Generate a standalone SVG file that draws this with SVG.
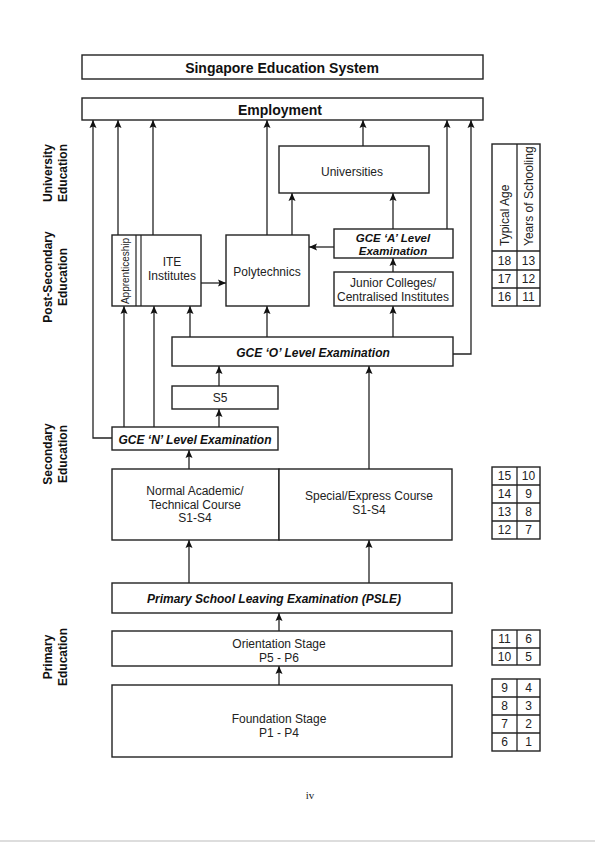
<svg xmlns="http://www.w3.org/2000/svg" width="595" height="842" viewBox="0 0 595 842">
<style>
.bx{fill:#fff;stroke:#222;stroke-width:1.4}
.cn{fill:none;stroke:#222;stroke-width:1.3}
.t{font-family:"Liberation Sans",Arial,sans-serif;font-size:12px;fill:#222;text-anchor:middle;dominant-baseline:central}
.tb{font-family:"Liberation Sans",Arial,sans-serif;font-size:14px;font-weight:bold;fill:#111;text-anchor:middle;dominant-baseline:central}
.ti{font-family:"Liberation Sans",Arial,sans-serif;font-size:12px;font-weight:bold;font-style:italic;fill:#111;text-anchor:middle;dominant-baseline:central}
.lb{font-family:"Liberation Sans",Arial,sans-serif;font-size:12px;font-weight:bold;fill:#111;text-anchor:middle;dominant-baseline:central}
</style>
<defs>
<marker id="ah" markerUnits="userSpaceOnUse" markerWidth="10" markerHeight="8" refX="8" refY="4" orient="auto">
<path d="M0,0.5 L8,4 L0,7.5 L1.5,4 z" fill="#111"/>
</marker>
</defs>
<rect width="595" height="842" fill="#fff"/>
<line x1="0" y1="841" x2="595" y2="841" stroke="#bbb" stroke-width="1"/>

<g id="side-labels">
<text class="lb" transform="translate(48,173) rotate(-90)">University</text>
<text class="lb" transform="translate(63,173) rotate(-90)">Education</text>
<text class="lb" transform="translate(48,277) rotate(-90)">Post-Secondary</text>
<text class="lb" transform="translate(63,277) rotate(-90)">Education</text>
<text class="lb" transform="translate(48,454) rotate(-90)">Secondary</text>
<text class="lb" transform="translate(63,454) rotate(-90)">Education</text>
<text class="lb" transform="translate(48,657) rotate(-90)">Primary</text>
<text class="lb" transform="translate(63,657) rotate(-90)">Education</text>
</g>

<g id="connectors">
<polyline class="cn" points="112,438 93,438 93,120" marker-end="url(#ah)"/>
<line class="cn" x1="118" y1="235" x2="118" y2="120" marker-end="url(#ah)"/>
<line class="cn" x1="153" y1="235" x2="153" y2="120" marker-end="url(#ah)"/>
<line class="cn" x1="267" y1="235" x2="267" y2="120" marker-end="url(#ah)"/>
<line class="cn" x1="363" y1="146" x2="363" y2="120" marker-end="url(#ah)"/>
<line class="cn" x1="447" y1="229" x2="447" y2="120" marker-end="url(#ah)"/>
<polyline class="cn" points="453,354 471,354 471,120" marker-end="url(#ah)"/>
<line class="cn" x1="201" y1="283" x2="226" y2="283" marker-end="url(#ah)"/>
<line class="cn" x1="334" y1="247" x2="309" y2="247" marker-end="url(#ah)"/>
<line class="cn" x1="292" y1="235" x2="292" y2="193" marker-end="url(#ah)"/>
<line class="cn" x1="393" y1="229" x2="393" y2="193" marker-end="url(#ah)"/>
<line class="cn" x1="393" y1="272" x2="393" y2="258" marker-end="url(#ah)"/>
<line class="cn" x1="393" y1="337" x2="393" y2="306" marker-end="url(#ah)"/>
<line class="cn" x1="267" y1="337" x2="267" y2="306" marker-end="url(#ah)"/>
<line class="cn" x1="190" y1="337" x2="190" y2="306" marker-end="url(#ah)"/>
<line class="cn" x1="124" y1="427" x2="124" y2="306" marker-end="url(#ah)"/>
<line class="cn" x1="154" y1="427" x2="154" y2="306" marker-end="url(#ah)"/>
<line class="cn" x1="219" y1="386" x2="219" y2="366" marker-end="url(#ah)"/>
<line class="cn" x1="219" y1="427" x2="219" y2="409" marker-end="url(#ah)"/>
<line class="cn" x1="189" y1="469" x2="189" y2="450" marker-end="url(#ah)"/>
<line class="cn" x1="369" y1="469" x2="369" y2="366" marker-end="url(#ah)"/>
<line class="cn" x1="189" y1="583" x2="189" y2="540" marker-end="url(#ah)"/>
<line class="cn" x1="369" y1="583" x2="369" y2="540" marker-end="url(#ah)"/>
<line class="cn" x1="279" y1="631" x2="279" y2="613" marker-end="url(#ah)"/>
<line class="cn" x1="279" y1="685" x2="279" y2="666" marker-end="url(#ah)"/>
</g>

<g id="title"><rect class="bx" x="82" y="55" width="401" height="24"/><text class="tb" x="282" y="68">Singapore Education System</text></g>
<g id="employment"><rect class="bx" x="82" y="98" width="401" height="22"/><text class="tb" x="280" y="110">Employment</text></g>
<g id="universities"><rect class="bx" x="279" y="146" width="150" height="47"/><text class="t" x="352" y="172">Universities</text></g>
<g id="ite"><rect class="bx" x="112" y="235" width="89" height="71"/>
<line x1="136" y1="235" x2="136" y2="306" stroke="#222" stroke-width="1.2"/>
<line x1="141" y1="235" x2="141" y2="306" stroke="#222" stroke-width="1.2"/>
<text class="t" style="font-size:10px" transform="translate(125,271) rotate(-90)">Apprenticeship</text>
<text class="t" x="172" y="262">ITE</text><text class="t" x="172" y="276">Institutes</text></g>
<g id="polytechnics"><rect class="bx" x="226" y="235" width="83" height="71"/><text class="t" x="267" y="272">Polytechnics</text></g>
<g id="gce-a"><rect class="bx" x="334" y="229" width="119" height="29"/><text class="ti" style="font-size:11.5px" x="393" y="238">GCE ‘A’ Level</text><text class="ti" style="font-size:11.5px" x="393" y="251">Examination</text></g>
<g id="junior-colleges"><rect class="bx" x="334" y="272" width="119" height="34"/><text class="t" x="393" y="283">Junior Colleges/</text><text class="t" x="393" y="297">Centralised Institutes</text></g>
<g id="gce-o"><rect class="bx" x="172" y="337" width="281" height="29"/><text class="ti" x="313" y="353">GCE ‘O’ Level Examination</text></g>
<g id="s5"><rect class="bx" x="172" y="386" width="106" height="23"/><text class="t" x="220" y="398">S5</text></g>
<g id="gce-n"><rect class="bx" x="112" y="427" width="166" height="23"/><text class="ti" x="195" y="440">GCE ‘N’ Level Examination</text></g>
<g id="normal-course"><rect class="bx" x="112" y="469" width="167" height="71"/><text class="t" x="195" y="491">Normal Academic/</text><text class="t" x="195" y="505">Technical Course</text><text class="t" x="195" y="518">S1-S4</text></g>
<g id="express-course"><rect class="bx" x="279" y="469" width="173" height="71"/><text class="t" x="369" y="496">Special/Express Course</text><text class="t" x="369" y="510">S1-S4</text></g>
<g id="psle"><rect class="bx" x="112" y="583" width="340" height="30"/><text class="ti" x="274" y="599">Primary School Leaving Examination (PSLE)</text></g>
<g id="orientation"><rect class="bx" x="112" y="631" width="340" height="35"/><text class="t" x="279" y="644">Orientation Stage</text><text class="t" x="279" y="658">P5 - P6</text></g>
<g id="foundation"><rect class="bx" x="112" y="685" width="340" height="72"/><text class="t" x="279" y="719">Foundation Stage</text><text class="t" x="279" y="733">P1 - P4</text></g>

<g id="table-post">
<rect class="bx" x="492" y="144" width="48" height="162"/>
<line class="cn" x1="517" y1="144" x2="517" y2="306"/>
<line class="cn" x1="492" y1="251" x2="540" y2="251"/>
<line class="cn" x1="492" y1="270" x2="540" y2="270"/>
<line class="cn" x1="492" y1="288" x2="540" y2="288"/>
<text class="t" style="text-anchor:start" transform="translate(505,246) rotate(-90)">Typical Age</text>
<text class="t" style="text-anchor:start" transform="translate(529,246) rotate(-90)">Years of Schooling</text>
<text class="t" x="504.5" y="261">18</text><text class="t" x="528.5" y="261">13</text>
<text class="t" x="504.5" y="279">17</text><text class="t" x="528.5" y="279">12</text>
<text class="t" x="504.5" y="297">16</text><text class="t" x="528.5" y="297">11</text>
</g>
<g id="table-secondary">
<rect class="bx" x="492" y="467" width="48" height="72"/>
<line class="cn" x1="517" y1="467" x2="517" y2="539"/>
<line class="cn" x1="492" y1="485" x2="540" y2="485"/>
<line class="cn" x1="492" y1="503" x2="540" y2="503"/>
<line class="cn" x1="492" y1="521" x2="540" y2="521"/>
<text class="t" x="504.5" y="476">15</text><text class="t" x="528.5" y="476">10</text>
<text class="t" x="504.5" y="494">14</text><text class="t" x="528.5" y="494">9</text>
<text class="t" x="504.5" y="512">13</text><text class="t" x="528.5" y="512">8</text>
<text class="t" x="504.5" y="530">12</text><text class="t" x="528.5" y="530">7</text>
</g>
<g id="table-orientation">
<rect class="bx" x="492" y="630" width="48" height="35"/>
<line class="cn" x1="517" y1="630" x2="517" y2="665"/>
<line class="cn" x1="492" y1="648" x2="540" y2="648"/>
<text class="t" x="504.5" y="639">11</text><text class="t" x="528.5" y="639">6</text>
<text class="t" x="504.5" y="657">10</text><text class="t" x="528.5" y="657">5</text>
</g>
<g id="table-foundation">
<rect class="bx" x="492" y="679" width="48" height="72"/>
<line class="cn" x1="517" y1="679" x2="517" y2="751"/>
<line class="cn" x1="492" y1="697" x2="540" y2="697"/>
<line class="cn" x1="492" y1="715" x2="540" y2="715"/>
<line class="cn" x1="492" y1="733" x2="540" y2="733"/>
<text class="t" x="504.5" y="688">9</text><text class="t" x="528.5" y="688">4</text>
<text class="t" x="504.5" y="706">8</text><text class="t" x="528.5" y="706">3</text>
<text class="t" x="504.5" y="724">7</text><text class="t" x="528.5" y="724">2</text>
<text class="t" x="504.5" y="742">6</text><text class="t" x="528.5" y="742">1</text>
</g>

<text x="310" y="795" style="font-family:'Liberation Serif','Times New Roman',serif;font-size:11px;fill:#222;text-anchor:middle;dominant-baseline:central">iv</text>
</svg>
